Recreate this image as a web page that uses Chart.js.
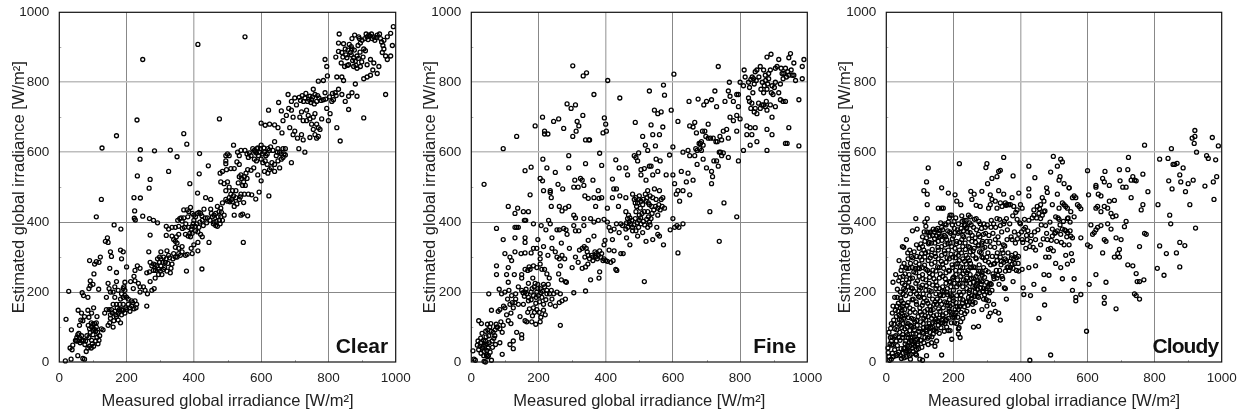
<!DOCTYPE html>
<html><head><meta charset="utf-8">
<style>html,body{margin:0;padding:0;background:#fff;width:1246px;height:419px;overflow:hidden}
.p{position:absolute;top:0;width:415px;height:419px}canvas{display:block}</style>
<script src="https://cdn.jsdelivr.net/npm/chart.js@4/dist/chart.umd.min.js"></script>
</head><body>
<div class="p" style="left:0"><canvas id="c1" width="415" height="419"></canvas></div>
<div class="p" style="left:415px"><canvas id="c2" width="415" height="419"></canvas></div>
<div class="p" style="left:830px"><canvas id="c3" width="415" height="419"></canvas></div>
<script>
const tickValues=[0,200,400,600,800,1000];
const panelNames=["Clear","Fine","Cloudy"];
const xLabel="Measured global irradiance [W/m²]";
const yLabel="Estimated global irradiance [W/m²]";
const clearPoints=[[18,3],[35,8],[70,10],[75,8],[55,18],[32,40],[38,35],[40,48],[20,122],[28,202],[36,92],[50,60],[55,60],[52,70],[58,82],[62,55],[68,60],[60,105],[56,148],[64,120],[70,118],[66,140],[75,130],[72,190],[68,198],[85,185],[88,210],[92,218],[90,290],[92,232],[100,222],[105,280],[110,287],[118,285],[122,300],[103,252],[117,208],[80,30],[85,40],[90,45],[95,40],[78,60],[82,75],[88,70],[92,85],[96,62],[100,78],[104,95],[108,88],[112,70],[115,52],[118,62],[120,75],[100,108],[95,112],[105,110],[110,112],[88,128],[85,148],[96,140],[102,155],[112,130],[125,95],[130,92],[135,140],[140,150],[145,105],[150,112],[152,125],[148,150],[155,150],[160,100],[162,118],[165,145],[170,130],[175,120],[178,150],[182,112],[185,135],[190,148],[195,140],[200,150],[205,165],[210,155],[215,160],[222,152],[228,155],[230,165],[225,175],[215,175],[200,185],[195,190],[205,180],[160,165],[170,165],[180,165],[190,165],[165,185],[160,200],[165,215],[170,230],[175,205],[190,210],[195,228],[192,215],[140,185],[145,225],[148,210],[152,200],[150,268],[152,315],[155,302],[170,256],[182,320],[190,315],[185,295],[163,392],[183,380],[110,415],[125,465],[127,612],[170,647],[137,345],[143,355],[145,342],[200,272],[225,262],[232,275],[240,268],[222,245],[225,232],[235,225],[240,215],[220,210],[212,230],[248,417],[268,410],[280,405],[292,398],[270,363],[267,497],[266,315],[270,522],[232,532],[240,580],[241,607],[231,692],[283,604],[222,470],[241,469],[224,432],[223,411],[226,406],[325,545],[330,606],[350,587],[388,510],[411,483],[416,538],[417,596],[370,653],[379,623],[476,695],[443,561],[435,470],[450,465],[424,266],[378,260],[260,160],[248,865],[412,908],[552,930],[993,959],[547,342],[240,200],[250,215],[255,205],[262,195],[270,230],[275,205],[282,210],[285,240],[260,255],[268,258],[270,285],[275,275],[280,280],[285,278],[290,275],[295,265],[300,260],[305,250],[310,265],[298,300],[302,295],[310,300],[315,285],[320,318],[325,305],[320,260],[330,255],[335,280],[340,310],[345,300],[350,300],[355,310],[360,305],[365,330],[345,328],[355,325],[365,315],[375,305],[380,308],[395,310],[400,335],[392,325],[412,318],[318,362],[335,360],[340,350],[345,345],[350,340],[348,358],[355,365],[318,388],[325,380],[335,385],[345,385],[355,388],[352,405],[358,410],[362,412],[365,403],[372,385],[370,435],[380,435],[390,442],[385,430],[395,425],[400,420],[405,415],[410,425],[415,428],[420,425],[425,405],[430,437],[450,437],[465,425],[475,430],[480,440],[470,445],[490,420],[485,455],[375,365],[383,360],[390,358],[395,368],[405,375],[385,385],[392,380],[398,395],[408,395],[415,385],[420,365],[412,342],[425,358],[445,342],[440,412],[448,405],[455,415],[460,400],[465,390],[470,388],[478,395],[485,405],[480,415],[460,420],[520,420],[540,420],[545,423],[560,418],[548,456],[562,480],[572,478],[584,466],[594,486],[623,475],[490,510],[495,490],[500,515],[505,500],[510,480],[515,490],[500,460],[507,458],[512,465],[520,445],[525,470],[535,465],[540,480],[550,480],[480,515],[478,540],[485,545],[495,567],[497,550],[510,553],[520,553],[528,572],[535,565],[540,535],[550,530],[555,540],[560,550],[570,548],[578,555],[590,535],[600,518],[610,545],[620,540],[630,555],[640,565],[650,575],[660,580],[640,545],[655,555],[665,585],[690,570],[495,590],[500,595],[530,600],[535,590],[540,605],[552,605],[562,585],[570,590],[580,605],[588,610],[595,600],[600,620],[610,600],[620,610],[628,615],[635,605],[640,630],[648,600],[665,610],[672,592],[518,620],[600,683],[612,677],[625,680],[622,720],[640,678],[650,670],[652,742],[660,718],[665,690],[662,655],[680,765],[690,745],[685,670],[695,650],[700,660],[708,640],[712,610],[720,650],[725,635],[730,600],[700,755],[705,735],[715,700],[720,715],[725,690],[735,720],[730,755],[738,745],[745,760],[750,750],[755,780],[760,765],[765,745],[772,755],[745,695],[750,680],[755,665],[760,650],[765,640],[770,670],[775,665],[780,695],[785,750],[790,770],[795,725],[800,690],[805,710],[810,745],[815,750],[820,770],[830,780],[840,765],[850,745],[860,760],[870,770],[880,795],[885,760],[825,670],[835,632],[860,722],[905,698],[970,765],[790,865],[795,845],[797,818],[770,803],[785,805],[822,872],[830,888],[840,885],[832,938],[830,912],[825,815],[840,815],[845,805],[848,845],[860,850],[865,885],[870,895],[875,870],[880,860],[885,875],[870,925],[878,935],[890,930],[900,920],[905,895],[910,890],[915,930],[920,935],[930,925],[935,930],[945,935],[955,925],[965,920],[975,930],[985,940],[990,905],[965,895],[970,875],[985,875],[975,865],[960,885],[950,845],[935,855],[925,865],[915,850],[905,810],[915,815],[925,820],[932,835],[945,825],[895,845],[885,840],[875,845],[855,870]];
const clearExtra=[[713,757],[717,748],[722,762],[726,745],[733,768],[741,752],[748,742],[753,758],[758,738],[768,762],[778,748],[792,752],[803,758],[812,768],[823,762],[868,878],[872,862],[877,892],[882,848],[889,868],[894,886],[899,858],[903,872],[858,892],[852,878],[862,908],[868,902],[888,905],[895,912],[908,925],[912,938],[918,922],[924,932],[928,938],[938,920],[942,928],[952,938],[958,915],[962,905],[892,925],[838,855],[843,872],[856,848],[850,895],[845,910],[582,602],[586,598],[590,612],[592,590],[598,610],[604,595],[608,612],[614,590],[618,595],[624,605],[580,580],[586,575],[575,610],[565,598],[558,595],[505,590],[495,575],[535,530],[542,525],[548,515],[553,505],[558,525],[545,505],[532,512],[525,490],[518,475],[505,470],[495,465],[515,458],[528,452],[538,472],[400,405],[404,388],[412,372],[418,400],[424,418],[428,390],[434,412],[395,388],[388,368],[382,415],[376,395],[370,412],[366,382],[438,398],[452,425],[458,395],[466,402],[472,415],[476,405],[482,428],[302,275],[308,285],[313,270],[318,295],[323,282],[328,298],[332,268],[338,295],[298,285],[292,295],[286,262],[280,262],[295,250],[302,315],[185,150],[180,145],[175,140],[168,135],[172,155],[158,140],[152,135],[210,145],[218,170],[198,155],[182,180],[190,185],[185,195],[195,205],[100,90],[96,100],[90,95],[86,105],[110,100],[114,85],[108,60],[102,45],[98,52],[76,50],[72,62],[60,70],[66,75],[55,78],[48,62],[650,610],[655,600],[660,595],[668,595],[645,590],[672,610],[600,580],[605,570],[612,575],[618,565],[625,550],[632,570],[745,642],[735,690],[740,705],[755,700],[760,710],[765,680],[770,645],[690,720],[695,700],[682,725],[675,705]];
const finePoints=[[5,32],[8,8],[12,5],[22,118],[30,110],[38,2],[42,0],[60,5],[38,508],[20,60],[18,48],[22,35],[28,55],[32,82],[35,45],[38,30],[42,60],[45,20],[48,15],[50,40],[52,75],[55,100],[48,108],[58,110],[62,60],[65,85],[70,75],[72,50],[78,100],[85,95],[88,115],[92,85],[95,105],[92,22],[85,55],[60,148],[52,195],[75,100],[80,145],[85,150],[83,208],[90,195],[96,160],[100,155],[105,135],[110,118],[118,110],[115,50],[125,60],[125,38],[135,85],[150,78],[150,68],[118,140],[115,165],[122,170],[130,170],[132,180],[125,155],[140,165],[145,130],[155,165],[160,118],[165,115],[170,175],[180,115],[185,155],[195,150],[192,108],[205,115],[220,135],[215,165],[225,195],[235,165],[255,200],[265,105],[265,195],[280,180],[305,198],[340,203],[515,230],[250,160],[262,170],[270,175],[245,195],[100,200],[108,180],[112,205],[120,190],[132,195],[140,215],[150,205],[160,200],[165,195],[170,185],[178,200],[185,190],[195,200],[200,190],[210,185],[205,210],[215,222],[225,205],[240,180],[232,240],[225,252],[210,265],[205,280],[195,270],[185,275],[175,265],[160,265],[150,250],[170,225],[183,240],[190,225],[198,210],[280,230],[283,228],[260,252],[268,235],[75,275],[75,250],[110,270],[105,250],[128,250],[110,228],[150,240],[100,310],[115,300],[120,290],[130,315],[148,310],[160,312],[178,312],[185,325],[195,325],[198,350],[205,310],[215,330],[205,295],[218,265],[228,305],[240,325],[250,315],[255,300],[262,295],[265,275],[270,305],[278,295],[292,325],[300,270],[310,300],[318,285],[322,320],[330,325],[336,330],[345,315],[348,348],[330,268],[340,272],[347,280],[355,235],[380,240],[382,258],[370,300],[362,290],[375,295],[385,300],[395,295],[400,290],[395,335],[398,348],[420,350],[410,320],[425,318],[415,285],[422,290],[430,265],[433,262],[445,310],[452,310],[472,335],[95,350],[130,355],[160,355],[160,342],[75,382],[130,385],[135,385],[140,385],[158,405],[185,395],[208,390],[222,378],[230,405],[235,395],[240,355],[255,378],[262,378],[268,340],[275,382],[282,378],[285,365],[305,390],[310,375],[320,375],[335,390],[335,410],[365,360],[355,410],[365,400],[370,445],[378,405],[395,408],[405,400],[410,385],[415,375],[425,380],[432,395],[440,370],[445,395],[450,390],[460,380],[462,355],[468,420],[475,395],[480,375],[490,375],[495,360],[500,405],[505,395],[510,370],[520,345],[525,385],[530,400],[535,410],[540,350],[555,420],[555,365],[560,360],[572,335],[592,378],[600,410],[605,385],[612,390],[618,385],[630,395],[615,312],[710,430],[738,345],[752,455],[790,415],[110,445],[130,425],[138,440],[155,430],[170,430],[162,405],[175,478],[160,547],[178,557],[190,675],[135,645],[95,610],[205,525],[212,518],[215,490],[235,485],[235,490],[238,470],[238,445],[225,555],[250,542],[258,508],[272,495],[262,445],[270,432],[280,440],[290,445],[305,420],[310,412],[318,500],[305,500],[308,520],[325,525],[330,520],[335,505],[338,475],[348,468],[362,520],[365,470],[378,490],[380,468],[388,470],[405,440],[420,470],[424,495],[432,495],[438,445],[442,475],[460,470],[290,555],[290,590],[340,567],[382,597],[388,562],[213,580],[212,700],[218,660],[218,652],[228,652],[245,688],[260,695],[275,668],[285,738],[297,725],[310,735],[302,645],[312,660],[315,688],[320,675],[332,705],[340,635],[350,635],[352,635],[365,765],[392,655],[396,698],[400,680],[402,660],[406,805],[333,818],[343,827],[302,847],[442,755],[420,523],[430,578],[440,555],[460,555],[465,535],[485,590],[490,585],[495,575],[498,598],[505,550],[505,535],[515,553],[520,520],[525,490],[530,560],[535,560],[540,535],[550,580],[555,545],[562,575],[580,535],[590,592],[595,720],[600,535],[605,510],[610,480],[615,490],[620,460],[625,545],[630,490],[488,685],[510,645],[518,620],[525,605],[530,775],[535,678],[540,650],[545,720],[548,618],[555,710],[560,650],[565,715],[570,672],[572,792],[575,763],[615,688],[603,823],[600,615],[630,600],[645,605],[650,590],[648,745],[650,675],[660,672],[665,685],[665,590],[670,655],[675,752],[685,630],[690,620],[695,660],[705,680],[705,640],[715,750],[692,735],[700,745],[720,640],[725,775],[730,730],[735,845],[740,645],[745,635],[755,745],[768,800],[765,775],[770,760],[780,745],[790,765],[795,765],[800,800],[810,790],[815,815],[812,835],[480,480],[485,465],[490,470],[495,455],[500,475],[505,460],[510,450],[520,460],[530,450],[540,470],[550,465],[555,440],[565,465],[570,470],[575,440],[560,490],[545,495],[490,430],[500,420],[515,430],[525,430],[460,430],[465,410],[470,400],[480,385],[640,515],[645,540],[660,520],[650,478],[672,565],[680,610],[685,605],[690,580],[700,555],[715,545],[718,530],[715,510],[730,575],[735,560],[745,590],[750,598],[765,585],[795,575],[750,660],[760,665],[765,640],[770,700],[780,690],[790,660],[795,730],[790,705],[800,695],[810,605],[820,650],[830,620],[835,650],[850,630],[880,605],[880,665],[895,650],[935,625],[940,625],[945,670],[975,618],[895,700],[850,710],[860,725],[870,735],[880,720],[890,735],[905,730],[820,675],[830,670],[845,670],[825,755],[835,740],[838,770],[840,810],[845,830],[850,835],[860,845],[870,835],[875,820],[885,810],[870,770],[880,780],[895,790],[905,800],[915,770],[920,750],[928,745],[935,745],[920,795],[925,825],[935,840],[945,820],[955,820],[965,805],[975,750],[985,810],[985,845],[990,865],[945,870],[950,882],[960,855],[915,865],[905,840],[892,880],[880,872],[890,835],[910,845],[930,825],[960,820]];
const fineExtra=[[28,68],[33,40],[37,18],[41,48],[44,72],[46,33],[49,92],[53,55],[56,28],[59,88],[63,42],[67,68],[71,92],[74,108],[43,88],[36,62],[29,25],[26,45],[51,18],[47,52],[154,198],[158,188],[163,208],[168,262],[172,272],[181,210],[187,215],[193,185],[198,222],[203,172],[207,198],[212,202],[218,215],[222,178],[229,222],[233,195],[238,205],[178,178],[173,152],[168,142],[182,132],[188,142],[192,168],[202,142],[207,128],[215,148],[462,398],[466,385],[472,412],[478,405],[484,392],[488,410],[494,398],[498,385],[504,412],[508,425],[512,402],[516,392],[522,408],[527,415],[532,392],[538,425],[543,435],[548,445],[552,385],[558,450],[562,435],[568,445],[488,455],[492,445],[498,465],[503,440],[512,465],[518,480],[523,470],[527,455],[532,475],[537,445],[358,305],[362,300],[368,315],[372,310],[378,305],[382,318],[388,310],[392,290],[405,288],[352,295],[348,305],[342,325],[338,300],[825,800],[828,785],[832,808],[836,815],[842,795],[848,805],[856,815],[862,780],[866,800],[872,790],[876,805],[882,795],[885,825],[893,770],[898,765],[902,785],[828,745],[832,725],[842,715],[845,725],[855,740],[865,735],[875,730],[878,745],[928,810],[938,815],[942,830],[952,835],[922,840],[668,610],[672,605],[678,625],[682,625],[688,660],[698,645],[712,640],[722,575],[728,630],[732,630],[738,600],[742,600]];
const cloudyPoints=[[5,40],[8,15],[10,5],[15,8],[18,25],[20,50],[25,35],[30,60],[12,70],[8,85],[15,110],[18,140],[20,160],[25,185],[32,185],[20,228],[28,250],[35,110],[40,85],[45,10],[50,25],[55,40],[60,15],[65,30],[72,8],[80,30],[90,35],[100,8],[108,5],[120,18],[165,20],[38,135],[42,155],[45,175],[50,195],[55,220],[50,245],[58,270],[48,330],[52,328],[60,350],[38,290],[65,295],[70,320],[72,282],[78,375],[88,410],[92,380],[90,335],[98,325],[108,330],[115,400],[122,410],[112,490],[122,480],[120,515],[125,555],[122,450],[125,370],[130,360],[120,355],[115,345],[165,498],[185,483],[205,478],[210,460],[218,567],[222,450],[225,418],[232,405],[240,385],[245,420],[250,415],[252,488],[255,465],[262,480],[268,448],[280,445],[285,488],[297,556],[300,567],[302,510],[310,478],[315,525],[330,530],[335,545],[340,548],[350,585],[378,532],[425,560],[425,495],[425,475],[443,527],[498,588],[520,580],[525,572],[490,543],[510,560],[515,520],[518,530],[530,510],[545,498],[600,547],[603,478],[625,505],[625,500],[645,525],[650,515],[652,545],[632,480],[640,475],[665,505],[695,550],[697,518],[715,500],[705,500],[720,550],[722,585],[730,520],[735,530],[740,520],[745,518],[730,470],[765,537],[770,620],[780,487],[810,450],[815,580],[840,582],[842,518],[850,610],[852,495],[855,565],[860,565],[867,568],[875,535],[878,515],[885,555],[892,487],[900,510],[905,450],[912,640],[918,625],[920,645],[920,662],[915,520],[925,600],[950,503],[955,590],[960,582],[972,642],[975,515],[977,465],[982,578],[985,530],[990,618],[845,420],[848,395],[922,383],[875,342],[890,333],[865,312],[835,310],[815,332],[808,268],[828,248],[875,272],[765,450],[760,435],[770,368],[775,365],[755,330],[745,253],[735,275],[720,278],[755,230],[748,230],[768,235],[740,195],[745,190],[755,180],[715,402],[710,387],[700,350],[695,300],[690,310],[685,355],[680,300],[695,322],[650,350],[655,345],[645,312],[625,250],[655,228],[605,222],[650,185],[650,168],[685,152],[597,88],[490,20],[428,5],[455,125],[472,163],[410,193],[430,190],[440,222],[470,208],[445,275],[470,250],[485,248],[408,212],[555,205],[565,185],[565,175],[580,193],[560,238],[555,290],[552,310],[535,305],[540,280],[520,270],[505,282],[525,238],[555,355],[580,355],[610,392],[615,365],[620,370],[625,378],[630,385],[640,390],[600,335],[608,330],[640,430],[650,445],[660,440],[665,460],[680,462],[670,425],[675,415],[685,418],[670,380],[660,395],[625,440],[630,445],[555,470],[560,475],[565,470],[550,430],[560,415],[570,450],[575,445],[580,438],[540,410],[548,400],[525,455],[530,450],[535,445],[540,440],[545,498],[510,480],[515,440],[495,450],[505,415],[515,408],[495,380],[505,370],[510,375],[520,365],[525,380],[535,375],[540,370],[548,375],[550,360],[530,335],[545,335],[478,498],[480,485],[470,460],[465,470],[460,450],[450,445],[455,425],[470,430],[465,420],[475,390],[460,410],[440,435],[440,420],[425,405],[415,385],[410,380],[400,395],[390,408],[400,450],[405,440],[390,435],[395,483],[375,470],[365,450],[350,480],[340,455],[335,490],[325,460],[315,465],[305,440],[310,450],[330,440],[345,445],[355,455],[360,450],[370,450],[380,445],[358,410],[350,395],[340,390],[330,410],[320,395],[312,385],[295,385],[290,365],[280,395],[268,410],[260,385],[250,370],[235,390],[230,375],[215,395],[205,370],[195,420],[190,420],[185,400],[175,395],[170,440],[165,440],[155,440],[140,380],[130,370],[150,360],[160,375],[165,385],[180,350],[190,340],[200,360],[210,345],[225,350],[235,340],[245,330],[255,345],[265,355],[275,365],[285,340],[300,345],[310,330],[325,350],[335,340],[345,320],[360,350],[375,350],[385,340],[395,365],[405,350],[420,350],[430,345],[445,350],[445,320],[460,335],[475,300],[485,300],[490,325],[480,350],[495,360],[405,265],[425,270],[395,260],[385,310],[380,295],[375,280],[370,270],[360,270],[355,260],[350,285],[340,300],[330,290],[320,280],[300,300],[295,290],[285,300],[275,260],[280,235],[285,230],[290,210],[300,200],[305,175],[315,205],[330,240],[320,245],[345,245],[355,210],[352,212],[358,180],[378,230],[300,160],[285,150],[310,140],[320,165],[325,145],[335,140],[340,120],[305,130],[275,102],[260,100],[260,145],[240,145],[265,170],[275,185],[290,180],[220,70],[215,80],[215,95],[210,110],[222,115],[228,125],[195,65],[190,90],[180,100],[185,90],[150,60],[145,45],[135,55],[125,50],[112,55],[115,70],[120,100],[130,85],[140,80],[155,105],[165,120],[175,110],[185,125],[195,135],[205,150],[222,160],[245,185],[255,190],[265,200],[90,20],[85,45],[75,60],[70,45],[65,70],[60,85],[55,95],[50,110],[45,120],[40,105],[35,145],[30,130],[25,95],[70,90],[80,80],[90,65],[100,95],[110,110],[105,135],[95,130],[85,115],[75,125],[65,110],[60,135],[55,150],[48,160],[45,140],[42,200],[48,225],[52,210],[58,190],[65,170],[70,155],[80,150],[90,165],[100,155],[110,170],[115,145],[125,130],[135,125],[145,115],[150,135],[160,145],[170,155],[180,170],[190,160],[200,175],[210,190],[220,180],[230,200],[240,210],[250,225],[260,240],[270,225],[280,260],[285,255],[250,250],[240,240],[230,235],[220,225],[210,215],[200,205],[190,195],[180,200],[170,190],[160,175],[150,165],[140,150],[130,160],[120,175],[110,195],[100,185],[90,195],[80,180],[72,195],[65,215],[60,235],[68,250],[78,240],[88,225],[98,215],[108,220],[118,205],[128,190],[138,180],[148,195],[158,210],[168,215],[178,225],[188,230],[198,240],[208,250],[218,260],[228,270],[238,280],[248,290],[258,305],[268,295],[278,315],[288,325],[275,335],[262,325],[250,315],[238,305],[228,295],[218,290],[208,280],[198,270],[188,260],[178,255],[168,245],[158,240],[148,230],[138,220],[128,225],[118,235],[108,250],[98,245],[88,255],[78,270],[88,285],[98,280],[108,270],[118,265],[128,255],[138,250],[148,260],[158,270],[168,280],[178,285],[188,295],[198,300],[208,310],[218,320],[228,330],[215,305],[205,325],[195,330],[185,320],[175,310],[165,305],[155,295],[145,285],[135,280],[125,290],[115,300],[105,310],[125,315],[135,305],[145,310],[155,320],[165,330],[175,335],[145,340],[155,345],[165,360],[135,340],[112,320],[100,300],[240,255],[255,270],[265,270],[290,270],[305,285],[250,270],[235,260],[222,245],[212,235],[202,225],[192,215],[182,210],[172,200],[162,190],[152,180],[142,165],[132,140],[122,150],[112,125],[102,115],[92,105],[82,100],[72,105],[62,100],[52,125],[42,130],[32,160],[22,120],[15,60],[28,75],[38,70],[48,70],[58,60],[68,55],[78,40],[88,80],[98,75],[108,85],[118,120],[128,110],[138,100],[148,95],[158,125],[168,135],[178,140],[188,145],[198,165],[208,170],[218,200],[228,215],[238,225],[248,205],[258,215],[268,245],[298,210],[310,225],[260,228],[272,208],[205,135],[215,150],[195,190],[165,165],[148,210],[128,205],[98,205],[78,210]];
const cloudyExtra=[[6,27],[11,52],[13,96],[17,72],[21,15],[23,108],[27,148],[29,18],[31,92],[33,47],[36,168],[37,28],[39,122],[41,62],[43,183],[44,38],[46,98],[47,148],[49,78],[51,168],[53,12],[54,132],[56,52],[57,205],[59,112],[61,33],[62,162],[63,78],[66,127],[67,228],[69,18],[71,142],[73,68],[74,212],[76,102],[77,178],[79,52],[81,122],[82,258],[83,202],[84,92],[86,142],[87,23],[89,172],[91,118],[93,232],[94,52],[96,187],[97,88],[99,267],[101,143],[103,212],[104,62],[106,292],[107,162],[109,238],[111,98],[113,183],[114,277],[116,132],[117,312],[119,218],[121,88],[123,262],[124,168],[126,338],[127,102],[129,242],[131,298],[133,148],[134,202],[136,72],[137,322],[139,263],[141,132],[142,238],[144,353],[146,172],[147,302],[149,88],[151,218],[153,272],[154,328],[156,152],[157,368],[159,192],[161,252],[163,112],[164,288],[166,348],[167,203],[169,132],[171,268],[173,318],[174,172],[176,238],[177,358],[179,122],[181,298],[183,192],[184,338],[186,262],[187,152],[189,372],[191,228],[193,308],[194,112],[196,278],[197,352],[199,183],[201,243],[203,382],[204,128],[206,298],[207,262],[209,338],[211,158],[213,282],[214,368],[216,222],[217,98],[219,342],[221,272],[223,192],[224,312],[226,402],[227,168],[229,252],[231,358],[233,288],[234,138],[236,322],[237,232],[239,382],[241,172],[243,298],[244,262],[246,352],[247,198],[249,328],[251,282],[253,392],[254,238],[256,362],[257,165],[259,318],[261,272],[263,408],[264,212],[266,342],[267,298],[269,378],[271,188],[273,252],[274,332],[276,402],[277,278],[279,358],[281,212],[283,312],[284,382],[286,248],[287,345],[289,298],[291,395],[293,242],[294,328],[296,368],[297,262],[299,228],[301,392],[303,312],[304,258],[306,362],[307,222],[309,345],[311,278],[313,405],[316,302],[318,368],[321,238],[323,328],[326,385],[328,262],[331,312],[333,358],[336,222],[338,408],[342,278],[344,372],[347,238],[349,335],[352,402],[354,295],[357,448],[361,378],[363,312],[366,262],[368,395],[372,358],[374,305],[377,418],[382,372],[386,428],[388,262],[391,352],[394,302],[398,398],[403,372],[407,342],[412,408],[416,325],[418,362],[422,375],[428,330],[432,362],[435,412],[438,328],[442,372],[448,412],[452,378],[457,438],[462,392],[468,352],[473,432],[478,368],[483,322],[488,400],[492,348],[498,318],[502,368],[508,345],[512,412],[518,392],[522,342],[528,402],[532,378],[538,358],[542,412],[33,208],[37,232],[41,242],[44,262],[47,272],[53,282],[56,252],[61,268],[64,312],[67,268],[71,238],[75,302],[79,298],[83,315],[86,268],[91,302],[94,268],[103,338],[108,358],[113,372],[118,388],[121,372],[128,342],[133,372],[138,362],[143,372],[148,378],[153,382],[158,358],[162,398],[168,378],[173,362],[178,392],[183,375],[188,412],[192,368],[197,392],[202,402],[207,412],[212,378],[218,372],[223,382],[228,362],[233,392],[238,405],[243,372],[248,398],[16,48],[24,72],[34,22],[42,18],[52,38],[58,28],[64,48],[69,32],[74,22],[77,72],[83,58],[87,62],[93,48],[96,38],[102,62],[106,42],[111,82],[118,92],[123,68],[128,72],[133,98],[138,112],[143,92],[148,122],[153,118],[158,82],[163,98],[168,112],[173,88],[178,118],[183,162],[188,178],[193,142],[198,128],[203,112],[208,142],[213,128],[218,158],[223,142],[228,178],[233,158],[238,172],[243,162],[248,172],[253,182],[258,172],[263,188],[268,218],[273,232],[278,198],[283,222],[288,202],[293,192],[298,178],[303,215],[308,198],[313,222],[318,252],[323,282],[328,302],[333,248],[338,262],[343,288],[348,312],[353,332],[358,290],[363,272],[368,288],[373,298],[378,268],[383,282],[388,298],[393,282]];
const panels=[
 {id:"c1",name:panelNames[0],points:clearPoints.concat(clearExtra),left:59.3,right:395.7,ytitleLeft:10,nameRight:7.5,nameSpacing:0},
 {id:"c2",name:panelNames[1],points:finePoints.concat(fineExtra),left:56.3,right:392.3,ytitleLeft:6,nameRight:11,nameSpacing:0},
 {id:"c3",name:panelNames[2],points:cloudyPoints.concat(cloudyExtra),left:56.3,right:391.7,ytitleLeft:6,nameRight:3.5,nameSpacing:-0.9}];
const textColor="#222";
const font="'Liberation Sans',Arial,sans-serif";
function frame(p){return {id:"frame",
 beforeDatasetsDraw(ch){const {ctx,chartArea:a,scales:{x,y}}=ch;ctx.save();ctx.strokeStyle="#aaa";ctx.lineWidth=1;ctx.beginPath();
  [100,300,500,700,900].forEach(v=>{const px=Math.round(x.getPixelForValue(v))+.5,py=Math.round(y.getPixelForValue(v))+.5;
   ctx.moveTo(px,a.bottom);ctx.lineTo(px,a.bottom-2);ctx.moveTo(a.left,py);ctx.lineTo(a.left+2,py);});ctx.stroke();ctx.restore();},
 afterDraw(ch){const {ctx,chartArea:a}=ch;ctx.save();ctx.strokeStyle="#111";ctx.lineWidth=1.2;ctx.strokeRect(a.left,a.top,a.right-a.left,a.bottom-a.top);
  ctx.font="bold 21px "+font;ctx.letterSpacing=p.nameSpacing+"px";ctx.fillStyle="#111";ctx.textAlign="right";ctx.textBaseline="alphabetic";ctx.fillText(p.name,a.right-p.nameRight,a.bottom-9);ctx.restore();}};}
panels.forEach(p=>{
 new Chart(document.getElementById(p.id),{type:"scatter",
  data:{datasets:[{data:p.points.map(([x,y])=>({x,y})),showLine:false,pointRadius:2,pointHoverRadius:2,pointBorderWidth:1.3,pointBorderColor:"#000",pointBackgroundColor:"rgba(255,255,255,0)",clip:false}]},
  plugins:[frame(p)],
  options:{responsive:false,animation:false,events:[],devicePixelRatio:1,
   layout:{padding:{left:p.ytitleLeft,right:415-p.right,top:12.3,bottom:8}},
   plugins:{legend:{display:false},tooltip:{enabled:false}},
   scales:{
    x:{type:"linear",min:0,max:1000,afterBuildTicks(s){s.ticks=tickValues.map(v=>({value:v}));},
     afterFit(s){s.height=49;s.paddingLeft=0;s.paddingRight=0;},
     grid:{drawTicks:false,color:c=>(c.tick&&(c.tick.value===0||c.tick.value===1000))?"rgba(0,0,0,0)":(c.tick&&c.tick.value===400?"#b5b5b5":"#888"),lineWidth:c=>(c.tick&&c.tick.value===400)?1.5:1},
     border:{display:false},
     ticks:{color:textColor,font:{family:font,size:13.5},padding:8,maxRotation:0,autoSkip:false,callback:v=>String(v)},
     title:{display:true,text:xLabel,color:textColor,font:{family:font,size:16.5},padding:{top:3,bottom:0}}},
    y:{type:"linear",min:0,max:1000,afterBuildTicks(s){s.ticks=tickValues.map(v=>({value:v}));},
     afterFit(s){s.width=p.left-p.ytitleLeft;s.paddingTop=0;s.paddingBottom=0;},
     grid:{drawTicks:false,color:c=>(c.tick&&(c.tick.value===0||c.tick.value===1000))?"rgba(0,0,0,0)":(c.tick&&(c.tick.value===600||c.tick.value===800)?"#bdbdbd":"#888"),lineWidth:c=>(c.tick&&(c.tick.value===600||c.tick.value===800))?1.6:1},
     border:{display:false},
     ticks:{color:textColor,font:{family:font,size:13.5},padding:10,autoSkip:false,callback:v=>String(v)},
     title:{display:true,text:yLabel,color:textColor,font:{family:font,size:16.5},padding:{top:0,bottom:0}}}
   }}});
});
</script>
</body></html>
